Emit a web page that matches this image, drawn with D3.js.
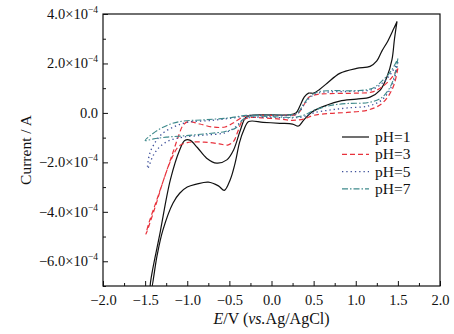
<!DOCTYPE html>
<html>
<head>
<meta charset="utf-8">
<script src="https://cdn.jsdelivr.net/npm/d3@7"></script>
<style>
  body { margin: 0; background: #fff; }
  svg { display: block; font-family: "Liberation Serif", "DejaVu Serif", serif; }
</style>
</head>
<body>
<svg width="454" height="334"></svg>
<script>
// values in units of 1e-4 A, potential in V; each loop: cathodic branch then anodic branch
const ph1 = [
  [1.49, 3.7], [1.46, 3.0], [1.43, 2.15], [1.37, 1.45], [1.29, 0.92], [1.17, 0.64], [1.01, 0.56],
  [0.81, 0.48], [0.66, 0.32], [0.48, 0.04], [0.38, -0.3], [0.32, -0.53], [0.25, -0.45], [0.1, -0.42],
  [-0.1, -0.38], [-0.27, -0.35], [-0.33, -0.7], [-0.38, -1.2], [-0.43, -2.0], [-0.49, -2.7],
  [-0.56, -3.13], [-0.63, -2.95], [-0.75, -2.8], [-0.89, -2.88], [-1.0, -3.0], [-1.09, -3.25],
  [-1.17, -3.65], [-1.29, -4.75], [-1.36, -5.8], [-1.43, -7.2],
  [-1.44, -7.0], [-1.32, -4.8], [-1.2, -2.7], [-1.09, -1.5], [-1.03, -1.12], [-0.97, -1.1],
  [-0.88, -1.4], [-0.77, -1.83], [-0.65, -2.03], [-0.53, -1.9], [-0.45, -1.5], [-0.37, -0.7],
  [-0.31, -0.2], [-0.25, -0.1], [0.0, -0.08], [0.2, -0.08], [0.29, 0.0], [0.34, 0.3],
  [0.39, 0.65], [0.44, 0.8], [0.5, 0.8], [0.57, 0.95], [0.66, 1.2], [0.81, 1.6], [1.01, 1.8],
  [1.17, 1.88], [1.25, 2.1], [1.31, 2.5], [1.38, 2.9], [1.45, 3.4], [1.49, 3.7]
];
const ph3 = [
  [1.5, 1.8], [1.46, 1.2], [1.4, 0.75], [1.3, 0.35], [1.15, 0.12], [0.9, 0.02], [0.7, -0.02],
  [0.5, -0.1], [0.38, -0.25], [0.25, -0.3], [0.1, -0.25], [-0.1, -0.2], [-0.28, -0.2], [-0.35, -0.35],
  [-0.4, -0.75], [-0.45, -1.15], [-0.52, -1.3], [-0.62, -1.25], [-0.8, -1.18], [-1.0, -1.2],
  [-1.1, -1.35], [-1.18, -1.8], [-1.28, -2.7], [-1.38, -3.8], [-1.49, -4.9],
  [-1.46, -4.5], [-1.36, -3.5], [-1.26, -2.5], [-1.17, -1.6], [-1.1, -0.9], [-1.05, -0.5],
  [-0.99, -0.35], [-0.85, -0.45], [-0.7, -0.57], [-0.55, -0.57], [-0.45, -0.4], [-0.33, -0.15],
  [-0.2, -0.1], [0.1, -0.1], [0.3, -0.05], [0.38, 0.3], [0.45, 0.65], [0.55, 0.75], [0.7, 0.78],
  [1.0, 0.8], [1.2, 0.85], [1.33, 1.1], [1.42, 1.4], [1.5, 1.8]
];
const ph5 = [
  [1.5, 2.05], [1.46, 1.4], [1.4, 0.9], [1.3, 0.5], [1.15, 0.28], [0.9, 0.2], [0.7, 0.12],
  [0.5, 0.0], [0.38, -0.15], [0.25, -0.2], [0.0, -0.18], [-0.28, -0.2], [-0.35, -0.3],
  [-0.42, -0.55], [-0.55, -0.8], [-0.8, -0.9], [-1.05, -0.98], [-1.2, -1.1], [-1.32, -1.35],
  [-1.4, -1.7], [-1.47, -2.25],
  [-1.45, -1.7], [-1.4, -1.3], [-1.3, -0.85], [-1.15, -0.55], [-1.0, -0.38], [-0.7, -0.3],
  [-0.45, -0.2], [-0.3, -0.12], [0.0, -0.1], [0.3, -0.05], [0.38, 0.3], [0.45, 0.6], [0.55, 0.8],
  [0.7, 0.85], [1.0, 0.88], [1.2, 0.95], [1.33, 1.25], [1.42, 1.6], [1.5, 2.05]
];
const ph7 = [
  [1.5, 2.2], [1.46, 1.5], [1.4, 1.0], [1.3, 0.6], [1.15, 0.42], [0.9, 0.38], [0.7, 0.3],
  [0.5, 0.1], [0.38, -0.1], [0.25, -0.18], [0.0, -0.15], [-0.28, -0.15], [-0.35, -0.3],
  [-0.42, -0.6], [-0.55, -0.75], [-0.8, -0.85], [-1.05, -0.93], [-1.25, -0.98], [-1.4, -1.05],
  [-1.5, -1.12],
  [-1.45, -0.95], [-1.35, -0.7], [-1.2, -0.45], [-1.05, -0.33], [-0.8, -0.28], [-0.5, -0.2],
  [-0.3, -0.1], [0.0, -0.08], [0.3, -0.02], [0.38, 0.35], [0.45, 0.65], [0.55, 0.85], [0.7, 0.9],
  [1.0, 0.9], [1.2, 1.0], [1.33, 1.35], [1.42, 1.7], [1.5, 2.2]
];

const seriesNames = ["pH=1", "pH=3", "pH=5", "pH=7"];
const xTicks = [-2.0, -1.5, -1.0, -0.5, 0.0, 0.5, 1.0, 1.5, 2.0];
const yTicks = [-6, -4, -2, 0, 2, 4];

const series = [
  { name: seriesNames[0], data: ph1, color: "#111", dash: null, w: 1.2 },
  { name: seriesNames[1], data: ph3, color: "#e8323c", dash: "5,3", w: 1.2 },
  { name: seriesNames[2], data: ph5, color: "#3d4f9a", dash: "1.3,3", w: 1.3 },
  { name: seriesNames[3], data: ph7, color: "#3f8a8c", dash: "6,2,1.5,2", w: 1.1 }
];

const svg = d3.select("svg");
const margin = { left: 103, right: 14, top: 14, bottom: 48 };
const W = 454, H = 334;

const x = d3.scaleLinear().domain([-2, 2]).range([margin.left, W - margin.right]);
const y = d3.scaleLinear().domain([-7, 4]).range([H - margin.bottom, margin.top]);

svg.append("defs").append("clipPath").attr("id", "plot")
  .append("rect")
  .attr("x", x(-2)).attr("y", y(4))
  .attr("width", x(2) - x(-2)).attr("height", y(-7) - y(4));

const line = d3.line()
  .x(d => x(d[0]))
  .y(d => y(d[1]))
  .curve(d3.curveCatmullRom.alpha(0.5));

const plot = svg.append("g").attr("clip-path", "url(#plot)");
plot.selectAll("path")
  .data(series)
  .join("path")
  .attr("d", d => line(d.data))
  .attr("fill", "none")
  .attr("stroke", d => d.color)
  .attr("stroke-width", d => d.w)
  .attr("stroke-dasharray", d => d.dash);

// axes (ticks inward)
const minus = s => s.replace("-", "\u2212");
const xAxis = d3.axisBottom(x).tickValues(xTicks).tickSize(-5).tickPadding(9)
  .tickFormat(d => minus(d.toFixed(1)));
const xMinor = d3.axisBottom(x).tickValues(d3.range(-1.75, 2, 0.5)).tickSize(-3).tickFormat("");
const yAxis = d3.axisLeft(y).tickValues(yTicks).tickSize(-5).tickFormat("");
const yMinor = d3.axisLeft(y).tickValues(d3.range(-7, 4, 2)).tickSize(-3).tickFormat("");

function styleAxis(g) {
  g.select(".domain").remove();
  g.selectAll("line").attr("stroke", "#111").attr("stroke-width", 1);
  g.selectAll("text").attr("fill", "#111").attr("font-size", 14.5)
    .attr("font-family", "Liberation Serif, serif");
}

svg.append("g").attr("transform", `translate(0,${y(-7)})`).call(xAxis).call(styleAxis);
svg.append("g").attr("transform", `translate(0,${y(-7)})`).call(xMinor).call(styleAxis);
svg.append("g").attr("transform", `translate(${x(-2)},0)`).call(yAxis).call(styleAxis);
svg.append("g").attr("transform", `translate(${x(-2)},0)`).call(yMinor).call(styleAxis);

// y tick labels with 10^-4
const yl = svg.append("g").attr("font-size", 14.5).attr("fill", "#111");
yTicks.forEach(v => {
  const t = yl.append("text")
    .attr("x", x(-2) - 5)
    .attr("y", y(v) + 5)
    .attr("text-anchor", "end");
  if (v === 0) {
    t.text("0.0");
  } else {
    t.append("tspan").text(minus(v.toFixed(1)) + "\u00d710");
    t.append("tspan").attr("dy", -6).attr("font-size", 9.5).text("\u22124");
  }
});

// frame
svg.append("rect")
  .attr("x", x(-2)).attr("y", y(4))
  .attr("width", x(2) - x(-2)).attr("height", y(-7) - y(4))
  .attr("fill", "none").attr("stroke", "#111").attr("stroke-width", 1.2);

// axis titles
svg.append("text")
  .attr("transform", `translate(31,${(y(4) + y(-7)) / 2}) rotate(-90)`)
  .attr("text-anchor", "middle")
  .attr("font-size", 15.5)
  .attr("fill", "#111")
  .text("Current / A");

const xt = svg.append("text")
  .attr("x", (x(-2) + x(2)) / 2)
  .attr("y", 324)
  .attr("text-anchor", "middle")
  .attr("font-size", 16)
  .attr("fill", "#111");
xt.append("tspan").attr("font-style", "italic").text("E");
xt.append("tspan").text("/V (");
xt.append("tspan").attr("font-style", "italic").text("vs.");
xt.append("tspan").text("Ag/AgCl)");

// legend
const legend = svg.append("g");
series.forEach((s, i) => {
  const ly = 137 + i * 17.3;
  legend.append("line")
    .attr("x1", 342).attr("x2", 369)
    .attr("y1", ly).attr("y2", ly)
    .attr("stroke", s.color)
    .attr("stroke-width", s.w)
    .attr("stroke-dasharray", s.dash);
  legend.append("text")
    .attr("x", 375).attr("y", ly + 5)
    .attr("font-size", 15.5)
    .attr("fill", "#111")
    .text(s.name);
});
</script>
</body>
</html>
